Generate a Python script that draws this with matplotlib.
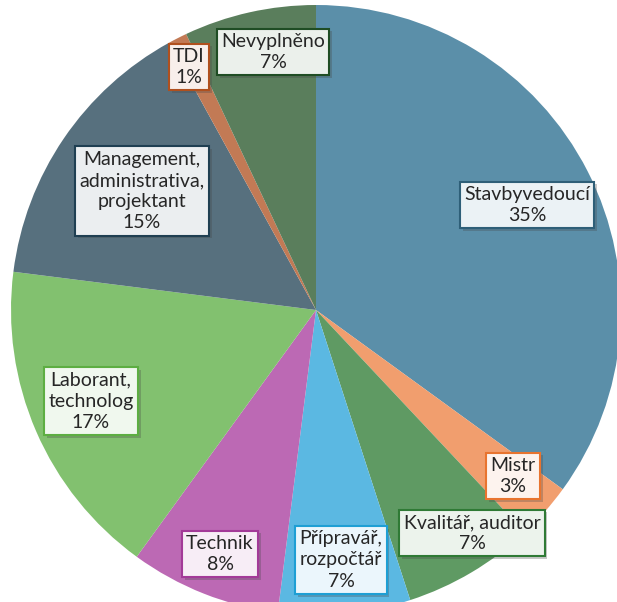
import matplotlib.pyplot as plt
import matplotlib.colors as mcolors
import matplotlib.patheffects as pe

labels = ["Stavbyvedoucí", "Mistr", "Kvalitář, auditor", "Přípravář,\nrozpočtář", "Technik",
          "Laborant,\ntechnolog", "Management,\nadministrativa,\nprojektant", "TDI", "Nevyplněno"]
values = [35, 3, 7, 7, 8, 17, 15, 1, 7]
colors = ["#5B8FA9", "#F19E6E", "#5F9A63", "#5BB8E2", "#BC69B4",
          "#82C16F", "#57707E", "#C27A55", "#5A7E5C"]
edges = ["#2E5F78", "#E8742F", "#2F7A35", "#1E9FD4", "#A33A98",
         "#5DAE42", "#1F3F52", "#B0501E", "#1F4D24"]
# label box centres in pixels (from top-left)
label_pos = [(527, 205), (513, 476), (472, 533), (341, 560), (220, 554),
             (91, 401), (142, 191), (189, 67), (273, 52)]

W, H = 617, 602
fig = plt.figure(figsize=(W / 100, H / 100), dpi=100)
ax = fig.add_axes([0, 0, 1, 1])

ax.pie(values, colors=colors, startangle=90, counterclock=False,
       center=(316, H - 310), radius=305, frame=True,
       wedgeprops=dict(linewidth=0))
ax.set_xlim(0, W)
ax.set_ylim(0, H)
ax.set_aspect("equal")
ax.axis("off")

for lab, v, c, e, (px, py) in zip(labels, values, colors, edges, label_pos):
    txt = f"{lab}\n{v}%"
    fill = mcolors.to_hex([0.88 + 0.12 * ch for ch in mcolors.to_rgb(c)])
    t = ax.text(px, H - py, txt, ha="center", va="center", fontsize=14,
                family="Lato", color="#262626", linespacing=1.3,
                bbox=dict(boxstyle="square,pad=0.22", fc=fill, ec=e, lw=1.5))
    t.get_bbox_patch().set_path_effects(
        [pe.SimplePatchShadow(offset=(2, -2), alpha=0.3), pe.Normal()])

fig.savefig("out.png", dpi=100)
